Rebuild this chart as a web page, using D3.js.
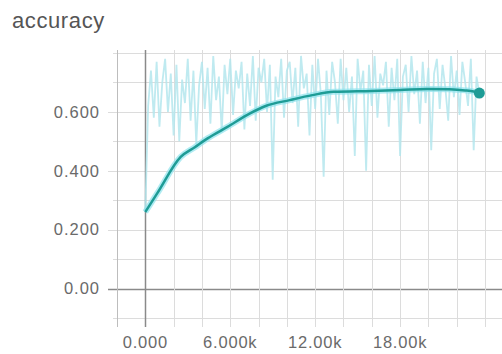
<!DOCTYPE html>
<html>
<head>
<meta charset="utf-8">
<script src="https://cdn.jsdelivr.net/npm/d3@7"></script>
<style>
  html, body { margin: 0; padding: 0; background: #fff; }
  svg { display: block; font-family: "Liberation Sans", Arial, sans-serif; }
</style>
</head>
<body>
<div id="chart"></div>
<script>
// data
const title = "accuracy"
const rawStepInterval = 200
const rawValues = [
  0.26,
  0.62,0.74,0.58,0.77,0.55,0.70,0.78,0.60,0.73,0.52,
  0.76,0.50,0.71,0.63,0.78,0.57,0.74,0.49,0.69,0.77,
  0.61,0.75,0.56,0.79,0.64,0.72,0.53,0.76,0.66,0.78,
  0.59,0.74,0.68,0.77,0.54,0.73,0.62,0.79,0.57,0.75,
  0.70,0.78,0.60,0.76,0.37,0.72,0.65,0.78,0.58,0.74,
  0.77,0.63,0.75,0.55,0.79,0.68,0.73,0.52,0.76,0.61,
  0.78,0.66,0.38,0.74,0.59,0.77,0.70,0.56,0.78,0.64,
  0.75,0.60,0.72,0.45,0.78,0.67,0.74,0.40,0.76,0.62,
  0.79,0.58,0.73,0.69,0.77,0.55,0.75,0.64,0.78,0.45,
  0.72,0.76,0.60,0.79,0.66,0.74,0.56,0.77,0.63,0.75,
  0.47,0.73,0.78,0.61,0.76,0.68,0.57,0.79,0.65,0.74,
  0.59,0.77,0.70,0.62,0.78,0.47,0.72,0.66
]
const smoothSteps  = [0, 850, 2500, 3500, 4400, 5800, 7400, 8500, 10200, 11800, 13300, 16000, 18000, 19900, 21500, 22600, 23200, 23600]
const smoothValues = [0.26, 0.324, 0.447, 0.48, 0.51, 0.549, 0.595, 0.62, 0.64, 0.657, 0.668, 0.671, 0.674, 0.678, 0.677, 0.673, 0.669, 0.664]
const xTickLabels = {0: "0.000", 6000: "6.000k", 12000: "12.00k", 18000: "18.00k"}
const yTickLabels = {0.6: "0.600", 0.4: "0.400", 0.2: "0.200", 0: "0.00"}

const width = 502, height = 354
const plotLeft = 117, plotRight = 502, plotTop = 53, plotBottom = 318

const svg = d3.select("#chart")
  .append("svg")
  .attr("width", width)
  .attr("height", height)

const x = d3.scaleLinear().domain([-2000, 25200]).range([plotLeft, plotRight])
const y = d3.scaleLinear().domain([-0.1, 0.8]).range([plotBottom, plotTop])

svg.append("text")
  .attr("x", 12).attr("y", 28)
  .attr("font-size", 22)
  .attr("letter-spacing", 0.6)
  .attr("fill", "#555")
  .text(title)

// grid
const xGrid = d3.range(-2000, 25000, 2000)
const yGrid = d3.range(-1, 9).map(d => Math.round(d) / 10)

svg.append("g").selectAll("line").data(yGrid).join("line")
  .attr("x1", d => yTickLabels[d] !== undefined ? 108 : 113)
  .attr("x2", plotRight)
  .attr("y1", d => Math.round(y(d)) + 0.5)
  .attr("y2", d => Math.round(y(d)) + 0.5)
  .attr("stroke", d => d === 0 ? "#8a8a8a" : "#dcdcdc")
  .attr("stroke-width", d => d === 0 ? 1.5 : 1)

svg.append("g").selectAll("line").data(xGrid).join("line")
  .attr("x1", d => Math.round(x(d)) + 0.5)
  .attr("x2", d => Math.round(x(d)) + 0.5)
  .attr("y1", plotTop - 3)
  .attr("y2", 327)
  .attr("stroke", d => d === 0 ? "#8a8a8a" : (d === -2000 ? "#bdbdbd" : "#dcdcdc"))
  .attr("stroke-width", d => d === 0 ? 1.5 : 1)

// tick labels
svg.append("g").selectAll("text").data(Object.keys(yTickLabels)).join("text")
  .attr("x", 100)
  .attr("y", d => y(+d))
  .attr("dy", "0.35em")
  .attr("text-anchor", "end")
  .attr("font-size", 16.5)
  .attr("letter-spacing", 1)
  .attr("fill", "#6a6a6a")
  .text(d => yTickLabels[d])

svg.append("g").selectAll("text").data(Object.keys(xTickLabels)).join("text")
  .attr("x", d => x(+d))
  .attr("y", 348)
  .attr("text-anchor", "middle")
  .attr("font-size", 16.5)
  .attr("letter-spacing", 0.8)
  .attr("fill", "#6a6a6a")
  .text(d => xTickLabels[d])

// raw series
const rawData = rawValues.map((v, i) => [i * rawStepInterval, v])
const line = d3.line().x(d => x(d[0])).y(d => y(d[1]))

svg.append("path")
  .datum(rawData)
  .attr("d", line)
  .attr("fill", "none")
  .attr("stroke", "#b4e6ed")
  .attr("stroke-opacity", 0.85)
  .attr("stroke-width", 1.8)

// smoothed series
const smoothData = smoothSteps.map((s, i) => [s, smoothValues[i]])
const curve = d3.line().x(d => x(d[0])).y(d => y(d[1])).curve(d3.curveMonotoneX)

svg.append("path")
  .datum(smoothData)
  .attr("d", curve)
  .attr("fill", "none")
  .attr("stroke", "#8fe3ec")
  .attr("stroke-opacity", 0.7)
  .attr("stroke-width", 6)

svg.append("path")
  .datum(smoothData)
  .attr("d", curve)
  .attr("fill", "none")
  .attr("stroke", "#1e9c96")
  .attr("stroke-width", 2.5)

const last = smoothData[smoothData.length - 1]
svg.append("circle")
  .attr("cx", x(last[0]))
  .attr("cy", y(last[1]))
  .attr("r", 5.5)
  .attr("fill", "#1e9c96")
</script>
</body>
</html>
